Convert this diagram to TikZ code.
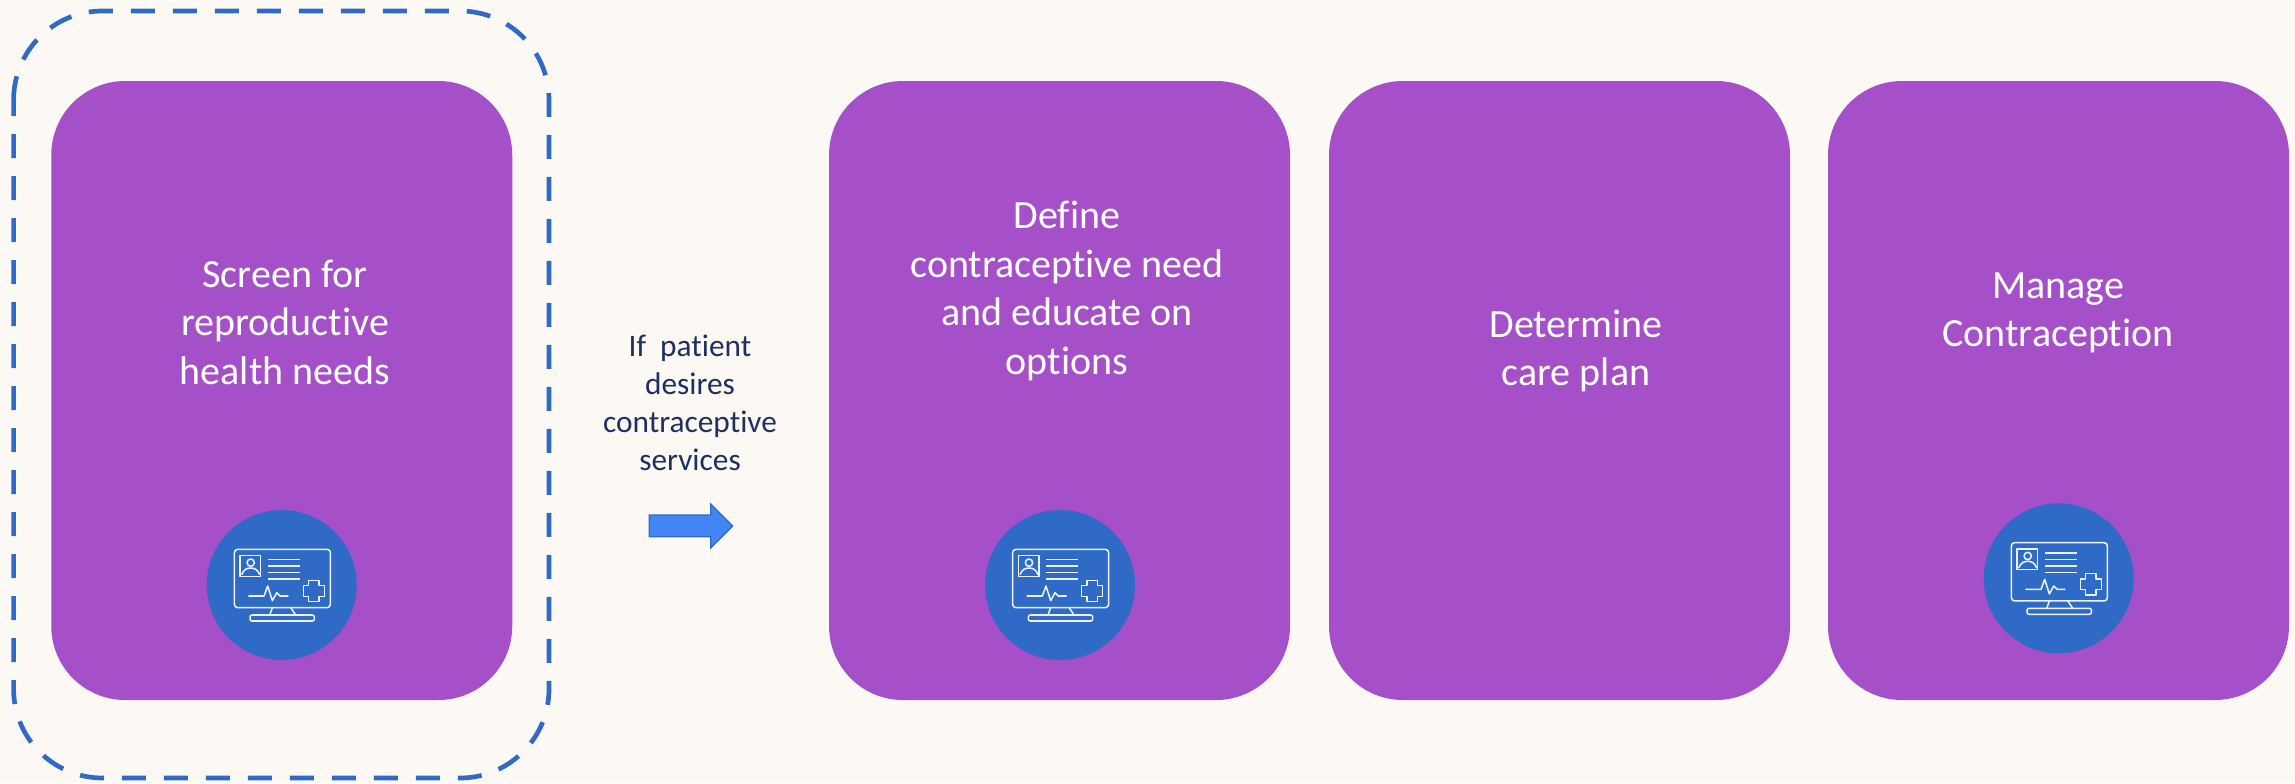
\documentclass[tikz,border=0pt]{standalone}
\usepackage{fontspec}
\setmainfont[Ligatures=NoCommon]{Carlito}
\definecolor{bgc}{HTML}{FCF9F5}
\definecolor{purp}{HTML}{A550C9}
\definecolor{blu}{HTML}{2F6AC6}
\definecolor{navy}{HTML}{1F3060}
\definecolor{arrowfill}{HTML}{4285F4}
\tikzset{
  cardbox/.style={fill=purp,draw=none,rounded corners=55.5pt,minimum width=345.75pt,minimum height=464.25pt,inner sep=0pt,outer sep=0pt},
  cardtext/.style={text=white,align=center,font=\fontsize{30}{36.4}\selectfont,inner sep=0pt},
  disc/.style={circle,fill=blu,minimum size=112.5pt,inner sep=0pt,draw=none},
  iconline/.style={draw=white!92!blu,line width=1.15pt,line join=round},
  monitoricon/.pic={
    \begin{scope}[scale=1/3,shift={(-260,-255)},iconline]
      \draw[rounded corners=2.5pt] (118,148) rectangle (406,323);
      \draw (135,167) rectangle (197,229);
      \draw (167,188) circle [radius=11];
      \draw (140,224) .. controls (146,208) and (156,204) .. (167,204) .. controls (178,204) and (188,208) .. (194,224);
      \draw (219,179) -- (315,179) (219,198) -- (315,198) (219,218) -- (315,218) (219,237) -- (315,237);
      \draw (160,288) -- (207,288) -- (218,258) -- (232,302) -- (245,278) -- (255,288) -- (280,288);
      \draw (341,241) -- (372,241) -- (372,257) -- (388,257) -- (388,289) -- (372,289) -- (372,305) -- (341,305) -- (341,289) -- (325,289) -- (325,257) -- (341,257) -- cycle;
      \draw (232,323) -- (224,345) (287,323) -- (302,345);
      \draw[rounded corners=1.5pt] (165,345) rectangle (358,363);
    \end{scope}
  }
}
\begin{document}
\begin{tikzpicture}[x=0.75pt,y=-0.75pt]
\fill[bgc] (0,0) rectangle (2295,783);
\useasboundingbox (0,0) rectangle (2295,783);
% dashed outline
\draw[blu,line width=3.5pt,dash pattern=on 18pt off 13.5pt]
  (13.6,100) .. controls (13.6,50.8) and (53.4,11) .. (102.6,11)
  -- (460,11) .. controls (509.2,11) and (549,50.8) .. (549,100)
  -- (549,689) .. controls (549,738.2) and (509.2,778) .. (460,778)
  -- (102.6,778) .. controls (53.4,778) and (13.6,738.2) .. (13.6,689) -- cycle;
% cards
\node[cardbox] (c1) at (281.75,390.5) {};
\node[cardbox] (c2) at (1059.5,390.5) {};
\node[cardbox] (c3) at (1559.5,390.5) {};
\node[cardbox] (c4) at (2058.5,390.5) {};
% card texts
\node[cardtext] (t1) at (285,322) {Screen for\\reproductive\\health needs};
\node[cardtext] (t2) at (1067,291) {Define\\contraceptive need\\and educate on\\options};
\node[cardtext] (t3) at (1576,351) {Determine\\care plan};
\node[cardtext] (t4) at (2058,313) {Manage\\Contraception};
% discs and icons
\node[disc] (d1) at (281.7,585) {};
\node[disc] (d2) at (1060,585) {};
\node[disc] (d4) at (2058.7,578.3) {};
\pic at (d1.center) {monitoricon};
\pic at (d2.center) {monitoricon};
\pic at (d4.center) {monitoricon};
% middle label and arrow
\node[text=navy,align=center,font=\fontsize{23.5}{28.6}\selectfont,inner sep=0pt] (lab) at (690,403) {If\ \ patient\\desires\\contraceptive\\services};
\draw[fill=arrowfill,draw=blu,line width=1pt,line join=miter]
  (649.3,515) -- (710.7,515) -- (710.7,504) -- (732.7,526) -- (710.7,548) -- (710.7,536.7) -- (649.3,536.7) -- cycle;
\end{tikzpicture}
\end{document}
